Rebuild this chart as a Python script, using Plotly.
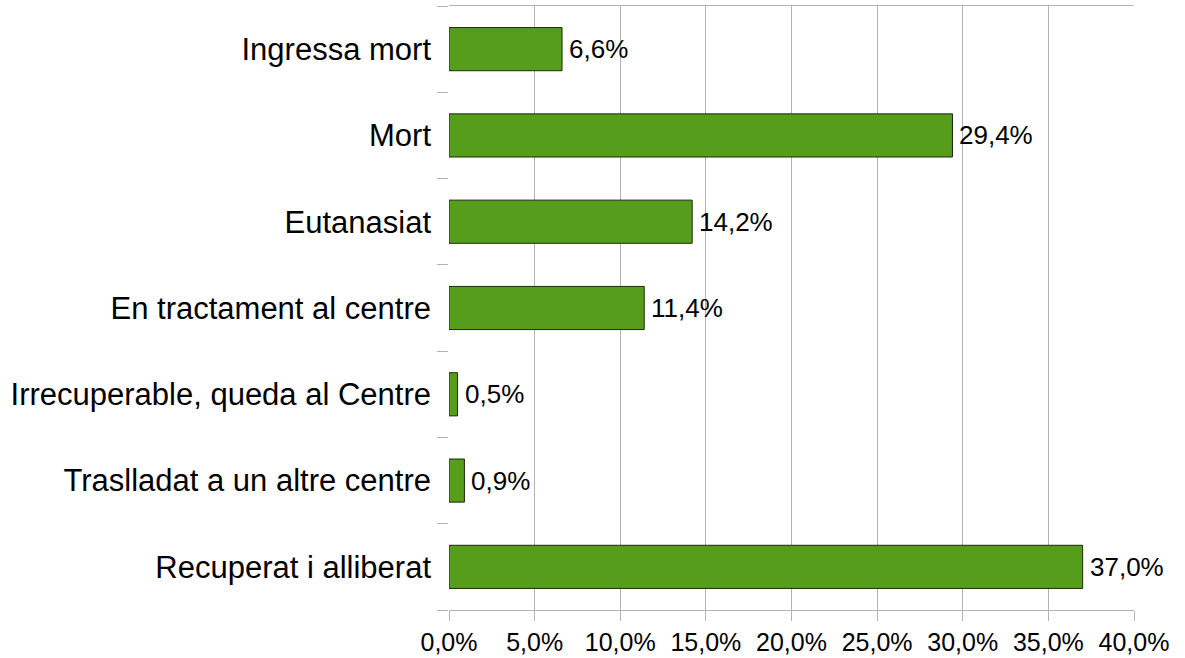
"""Horizontal bar chart: destinacio dels animals ingressats"""

import plotly.graph_objects as go

categories = [
    'Ingressa mort',
    'Mort',
    'Eutanasiat',
    'En tractament al centre',
    'Irrecuperable, queda al Centre',
    'Traslladat a un altre centre',
    'Recuperat i alliberat',
]
percentages = [6.6, 29.4, 14.2, 11.4, 0.5, 0.9, 37.0]
x_ticks = [0, 5, 10, 15, 20, 25, 30, 35, 40]

FONT = 'Liberation Sans, Arial, sans-serif'
GRID = '#b3b3b3'


def pct(v):
    """Format a percentage with a decimal comma"""
    return f'{v:.1f}%'.replace('.', ',')


fig = go.Figure()

fig.add_trace(go.Bar(
    y=categories,
    x=percentages,
    orientation='h',
    marker=dict(color='#579d1c', line=dict(color='#1a2a0a', width=1)),
    hoverinfo='skip',
    showlegend=False
))

# value labels just right of each bar
for cat, val in zip(categories, percentages):
    fig.add_annotation(
        x=val, y=cat,
        text=pct(val),
        showarrow=False,
        xanchor='left',
        xshift=5,
        font=dict(family=FONT, size=26, color='black'),
    )

fig.update_layout(
    width=1185,
    height=658,
    margin=dict(l=449, r=51, t=6, b=48, autoexpand=False),
    paper_bgcolor='white',
    plot_bgcolor='white',
    bargap=0.5,
    font=dict(family=FONT, color='black'),
    xaxis=dict(
        range=[0, 40],
        tickvals=x_ticks,
        ticktext=[pct(t) for t in x_ticks],
        tickfont=dict(size=25),
        showgrid=True,
        gridcolor=GRID,
        gridwidth=1,
        zeroline=False,
        showline=True,
        linecolor=GRID,
        linewidth=1,
        mirror=True,
        ticks='outside',
        ticklen=10,
        tickcolor=GRID,
        automargin=False,
    ),
    yaxis=dict(
        categoryorder='array',
        categoryarray=categories[::-1],
        tickson='boundaries',
        ticks='outside',
        ticklen=11,
        tickcolor=GRID,
        tickfont=dict(size=31),
        ticklabelstandoff=17,
        showgrid=False,
        zeroline=False,
        showline=False,
        automargin=False,
    ),
)

# remove the default body margin so the figure sits at the page corner
fig.write_html(
    "out.html",
    config={'displayModeBar': False},
    post_script="document.body.style.margin='0';",
)
